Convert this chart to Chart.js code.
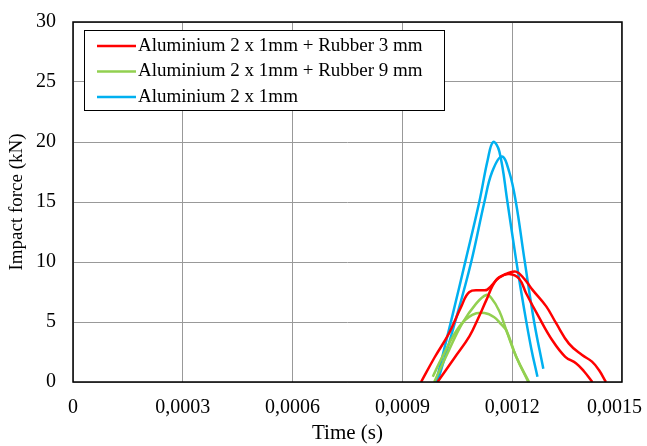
<!DOCTYPE html>
<html>
<head>
<meta charset="utf-8">
<script src="https://cdn.jsdelivr.net/npm/chart.js@4.4.0/dist/chart.umd.min.js"></script>
<style>
  html, body { margin: 0; padding: 0; background: #fff; }
  #wrap { width: 647px; height: 446px; position: relative; }
</style>
</head>
<body>
<div id="wrap"><canvas id="myChart" width="647" height="446"></canvas></div>
<script>
// legend labels and colours
var seriesNames = ['Aluminium 2 x 1mm + Rubber 3 mm', 'Aluminium 2 x 1mm + Rubber 9 mm', 'Aluminium 2 x 1mm'];
var seriesColors = ['#FF0000', '#92D050', '#00B0F0'];

// tick labels
var xTickLabels = ['0', '0,0003', '0,0006', '0,0009', '0,0012', '0,0015'];
var yTickLabels = ['0', '5', '10', '15', '20', '25', '30'];

// red curves (rubber 3 mm)
var red1Time  = [0.000951, 0.000987, 0.001028, 0.001061, 0.001083, 0.001115, 0.001132, 0.001165, 0.001192, 0.001219, 0.001238, 0.001273, 0.001309, 0.001345, 0.001375, 0.001396, 0.001419];
var red1Force = [0, 2.0, 4.1, 6.3, 7.5, 7.65, 7.7, 8.7, 9.0, 8.6, 7.4, 5.4, 3.5, 2.1, 1.55, 0.9, 0];
var red2Time  = [0.000996, 0.001042, 0.001083, 0.001110, 0.001129, 0.001156, 0.001183, 0.001210, 0.001233, 0.001255, 0.001293, 0.001320, 0.001355, 0.001391, 0.001418, 0.001437, 0.001456];
var red2Force = [0, 2.0, 3.8, 5.5, 6.8, 8.5, 9.0, 9.2, 8.6, 7.7, 6.3, 4.9, 3.2, 2.25, 1.7, 1.0, 0];

// green curves (rubber 9 mm)
var green1Time  = [0.000987, 0.001028, 0.001064, 0.001102, 0.001129, 0.001143, 0.001165, 0.001184, 0.001211, 0.001246];
var green1Force = [0, 2.7, 4.9, 6.55, 7.25, 7.0, 5.9, 4.3, 2.1, 0];
var green2Time  = [0.000983, 0.001009, 0.001055, 0.001091, 0.001124, 0.001151, 0.001170, 0.001184, 0.001211, 0.001244];
var green2Force = [0.44, 2.1, 4.6, 5.6, 5.75, 5.4, 4.8, 4.3, 2.1, 0];

// blue curves (aluminium only)
var blue1Time  = [0.000992, 0.001034, 0.001074, 0.001110, 0.001133, 0.001148, 0.001165, 0.001187, 0.001210, 0.001233, 0.001252, 0.001269];
var blue1Force = [0, 5.2, 10.3, 15.0, 18.5, 20.0, 19.2, 15.0, 10.3, 6.0, 2.8, 0.44];
var blue2Time  = [0.000996, 0.001044, 0.001088, 0.001124, 0.001145, 0.001172, 0.001192, 0.001210, 0.001233, 0.001260, 0.001285];
var blue2Force = [0, 5.0, 10.0, 15.0, 17.5, 18.8, 17.5, 15.0, 10.3, 5.0, 1.1];

function pares(t, f) {
  var out = [];
  for (var i = 0; i < t.length; i++) {
    out.push({x: t[i], y: f[i]});
  }
  return out;
}

function serie(t, f, k) {
  return {
    label: seriesNames[k],
    data: pares(t, f),
    borderColor: seriesColors[k],
    backgroundColor: seriesColors[k],
    borderWidth: 2.5,
    pointRadius: 0,
    fill: false,
    tension: 0.4
  };
}

var fuente = 'Liberation Serif';

// frame round the plot area + boxed legend in the top left
var marco = {
  id: 'marco',
  afterDraw: function(chart) {
    var ctx = chart.ctx;
    var a = chart.chartArea;
    ctx.save();
    ctx.strokeStyle = '#000';
    ctx.lineWidth = 1.5;
    ctx.strokeRect(a.left, a.top, a.right - a.left, a.bottom - a.top);

    var bx = 84, by = 30, bw = 360, bh = 80;
    ctx.fillStyle = '#fff';
    ctx.fillRect(bx, by, bw, bh);
    ctx.lineWidth = 1;
    ctx.strokeRect(bx + 0.5, by + 0.5, bw, bh);
    ctx.font = '19px "' + fuente + '"';
    ctx.textBaseline = 'middle';
    for (var i = 0; i < seriesNames.length; i++) {
      var yy = by + 16 + i * 25.5;
      ctx.strokeStyle = seriesColors[i];
      ctx.lineWidth = 2.5;
      ctx.beginPath();
      ctx.moveTo(bx + 13, yy);
      ctx.lineTo(bx + 52, yy);
      ctx.stroke();
      ctx.fillStyle = '#000';
      ctx.fillText(seriesNames[i], bx + 54, yy);
    }
    ctx.restore();
  }
};

var ctx = document.getElementById('myChart').getContext('2d');
var myChart = new Chart(ctx, {
  type: 'line',
  data: {
    datasets: [
      serie(red1Time, red1Force, 0),
      serie(red2Time, red2Force, 0),
      serie(green1Time, green1Force, 1),
      serie(green2Time, green2Force, 1),
      serie(blue1Time, blue1Force, 2),
      serie(blue2Time, blue2Force, 2)
    ]
  },
  options: {
    responsive: false,
    animation: false,
    layout: { padding: { top: 22, right: 25, left: 0, bottom: 0 } },
    plugins: {
      legend: { display: false },
      tooltip: { enabled: false }
    },
    scales: {
      x: {
        type: 'linear',
        min: 0,
        max: 0.0015,
        afterFit: function(s) {
          s.height = 64;
          s.paddingLeft = 0;
          s.paddingRight = 0;
        },
        afterBuildTicks: function(s) {
          s.ticks = xTickLabels.map(function(l, i) { return {value: i * 0.0003}; });
        },
        ticks: {
          color: '#000',
          font: { family: fuente, size: 20 },
          padding: 14,
          maxRotation: 0,
          callback: function(v, i) {
            // last label pushed a bit left so it stays inside the canvas
            return i == xTickLabels.length - 1 ? xTickLabels[i] + '   ' : xTickLabels[i];
          }
        },
        grid: { color: '#999', lineWidth: 1, drawTicks: false },
        border: { display: false },
        title: {
          display: true,
          text: 'Time (s)',
          color: '#000',
          font: { family: fuente, size: 21 },
          padding: { top: 0, bottom: 0 }
        }
      },
      y: {
        min: 0,
        max: 30,
        afterFit: function(s) {
          s.width = 73;
          s.paddingTop = 0;
          s.paddingBottom = 0;
        },
        ticks: {
          stepSize: 5,
          color: '#000',
          font: { family: fuente, size: 20 },
          padding: 17,
          callback: function(v, i) { return yTickLabels[i]; }
        },
        grid: { color: '#999', lineWidth: 1, drawTicks: false },
        border: { display: false },
        title: {
          display: true,
          text: 'Impact force (kN)',
          color: '#000',
          font: { family: fuente, size: 19 },
          padding: { top: 6, bottom: 4 }
        }
      }
    }
  },
  plugins: [marco]
});
</script>
</body>
</html>
